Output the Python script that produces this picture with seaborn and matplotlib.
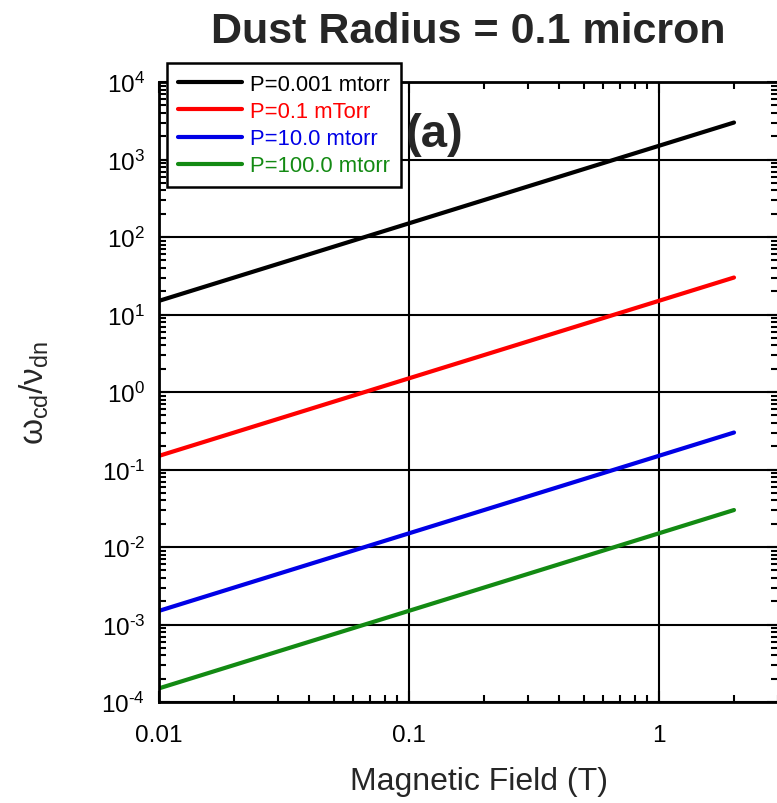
import numpy as np
import pandas as pd
import seaborn as sns
import matplotlib.pyplot as plt
from matplotlib.ticker import LogLocator, NullFormatter, FixedLocator, FuncFormatter

# values (log-log straight lines)
field = [0.01, 0.1, 1.0, 2.0]
p_0001 = [15, 150, 1500, 3000]
p_01 = [0.15, 1.5, 15, 30]
p_10 = [0.0015, 0.015, 0.15, 0.3]
p_100 = [0.00015, 0.0015, 0.015, 0.03]
labels = ['P=0.001 mtorr', 'P=0.1 mTorr', 'P=10.0 mtorr', 'P=100.0 mtorr']
colors = ['black', '#ff0000', '#0000e6', '#138a13']
x_ticks = [0.01, 0.1, 1]
x_ticklabels = ['0.01', '0.1', '1']

sns.set_style('ticks')
plt.rcParams['font.family'] = ['Liberation Sans', 'DejaVu Sans']
plt.rcParams['mathtext.fontset'] = 'custom'
plt.rcParams['mathtext.rm'] = 'Liberation Sans'
plt.rcParams['mathtext.it'] = 'Liberation Sans'
plt.rcParams['mathtext.bf'] = 'Liberation Sans:bold'

rows = []
for lab, vals in zip(labels, [p_0001, p_01, p_10, p_100]):
    for b, v in zip(field, vals):
        rows.append({'field': b, 'ratio': v, 'pressure': lab})
df = pd.DataFrame(rows)


def decade_label(val, pos):
    n = int(round(np.log10(val)))
    if n < 0:
        return r'$\mathdefault{10^{\text{-}%d}}$' % (-n)
    return r'$\mathdefault{10^{%d}}$' % n


fig = plt.figure(figsize=(7.77, 8.04), dpi=100)
ax = fig.add_axes([159 / 777, 101 / 804, 619 / 777, 620 / 804])

sns.lineplot(data=df, x='field', y='ratio', hue='pressure', hue_order=labels,
             palette=colors, lw=3, estimator=None, sort=False, ax=ax)

ax.set_xscale('log')
ax.set_yscale('log')
ax.set_xlim(0.01, 3)
ax.set_ylim(1e-4, 1e4)

ax.xaxis.set_major_locator(FixedLocator(x_ticks))
ax.set_xticklabels(x_ticklabels)
ax.xaxis.set_minor_locator(LogLocator(subs=np.arange(2, 10), numticks=20))
ax.xaxis.set_minor_formatter(NullFormatter())
ax.yaxis.set_major_locator(LogLocator(numticks=20))
ax.yaxis.set_major_formatter(FuncFormatter(decade_label))
ax.yaxis.set_minor_locator(LogLocator(subs=np.arange(2, 10), numticks=20))
ax.yaxis.set_minor_formatter(NullFormatter())

ax.tick_params(which='both', direction='in', top=True, right=True, width=1.5, colors='black')
ax.tick_params(which='major', length=8)
ax.tick_params(which='minor', length=5)
ax.tick_params(axis='x', which='major', labelsize=17.5, pad=16)
ax.tick_params(axis='y', which='major', labelsize=17.5, pad=10)
ax.grid(which='major', color='black', lw=1.5)
for sp in ax.spines.values():
    sp.set_linewidth(2)
    sp.set_color('black')

ax.set_xlabel('Magnetic Field (T)', fontsize=23)
ax.set_ylabel(r'$\omega_{\mathrm{cd}}/\nu_{\mathrm{dn}}$', fontsize=24)
ax.xaxis.set_label_coords(0.517, -0.103)
ax.yaxis.set_label_coords(-0.174, 0.5)

leg = ax.legend(loc='upper left', bbox_to_anchor=(167 / 777, 1 - 64 / 804),
                bbox_transform=fig.transFigure, borderaxespad=0, fontsize=15.8,
                frameon=True, fancybox=False, framealpha=1, edgecolor='black',
                handlelength=2.9, labelspacing=0.28, borderpad=0.5, handletextpad=0.4)
leg.get_frame().set_linewidth(1.8)
for txt, line in zip(leg.get_texts(), leg.get_lines()):
    txt.set_color(line.get_color())
    line.set_linewidth(3)

fig.text(468 / 777, 1 - 43 / 804, 'Dust Radius = 0.1 micron', ha='center', va='baseline',
         fontsize=31, fontweight='bold')
fig.text(406 / 777, 1 - 135 / 804, '(a)', ha='left', va='center', fontsize=34, fontweight='bold')

fig.savefig('out.png', dpi=100)
